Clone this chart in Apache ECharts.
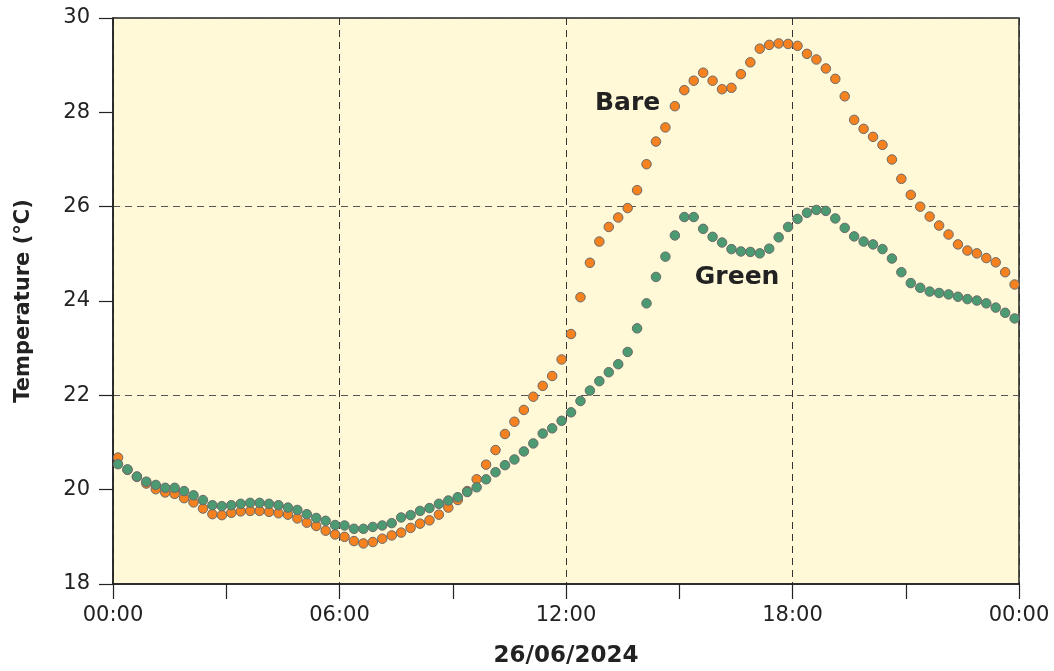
<!DOCTYPE html>
<html>
<head>
<meta charset="utf-8">
<script src="https://cdn.jsdelivr.net/npm/echarts@6/dist/echarts.min.js"></script>
<style>html,body{margin:0;padding:0;background:#fff}#c{width:1054px;height:671px}</style>
</head>
<body>
<div id="c"></div>
<script>
const times = [
"00:08","00:23","00:38","00:53","01:08","01:23","01:38","01:53","02:08","02:23","02:38","02:53",
"03:08","03:23","03:38","03:53","04:08","04:23","04:38","04:53","05:08","05:23","05:38","05:53",
"06:08","06:23","06:38","06:53","07:08","07:23","07:38","07:53","08:08","08:23","08:38","08:53",
"09:08","09:23","09:38","09:53","10:08","10:23","10:38","10:53","11:08","11:23","11:38","11:53",
"12:08","12:23","12:38","12:53","13:08","13:23","13:38","13:53","14:08","14:23","14:38","14:53",
"15:08","15:23","15:38","15:53","16:08","16:23","16:38","16:53","17:08","17:23","17:38","17:53",
"18:08","18:23","18:38","18:53","19:08","19:23","19:38","19:53","20:08","20:23","20:38","20:53",
"21:08","21:23","21:38","21:53","22:08","22:23","22:38","22:53","23:08","23:23","23:38","23:53"];

const bare = [
20.68,20.42,20.27,20.13,20.01,19.94,19.91,19.82,19.73,19.60,19.48,19.46,
19.51,19.54,19.55,19.55,19.53,19.50,19.47,19.39,19.30,19.23,19.13,19.05,
19.00,18.91,18.86,18.89,18.96,19.03,19.09,19.19,19.28,19.35,19.47,19.62,
19.78,19.97,20.22,20.53,20.84,21.18,21.44,21.69,21.97,22.20,22.41,22.76,
23.30,24.08,24.81,25.26,25.57,25.77,25.97,26.35,26.90,27.38,27.68,28.13,
28.47,28.67,28.84,28.67,28.49,28.52,28.81,29.06,29.35,29.43,29.46,29.45,
29.41,29.24,29.12,28.93,28.71,28.34,27.84,27.65,27.48,27.31,27.00,26.59,
26.25,26.00,25.79,25.60,25.41,25.20,25.07,25.01,24.91,24.82,24.61,24.35];

const green = [
20.54,20.43,20.28,20.17,20.10,20.04,20.04,19.97,19.88,19.78,19.67,19.65,
19.67,19.70,19.72,19.72,19.70,19.67,19.62,19.57,19.48,19.40,19.34,19.25,
19.24,19.17,19.17,19.21,19.24,19.29,19.41,19.46,19.55,19.61,19.70,19.77,
19.84,19.95,20.05,20.22,20.37,20.52,20.64,20.81,20.98,21.19,21.30,21.46,
21.64,21.88,22.10,22.30,22.49,22.66,22.92,23.42,23.95,24.51,24.94,25.39,
25.78,25.78,25.53,25.36,25.24,25.10,25.05,25.04,25.01,25.11,25.35,25.57,
25.74,25.87,25.93,25.91,25.75,25.55,25.37,25.26,25.20,25.10,24.90,24.61,
24.38,24.28,24.20,24.17,24.14,24.09,24.04,24.01,23.95,23.86,23.75,23.63];

const yTicks = [18, 30, 2];
const xTickLabels = ["00:00","06:00","12:00","18:00","00:00"];
const seriesNames = ["Bare","Green"];
const labelPos = { Bare: ["13:38", 28.18], Green: ["16:32", 24.5] };

function toH(t){ const p = t.split(":"); return (+p[0]) + (+p[1])/60; }

const FONT = "DejaVu Sans";
const chart = echarts.init(document.getElementById('c'), null, {renderer:'canvas'});

function mk(name, vals, color){
  return {
    name: name, type: 'scatter',
    data: vals.map((v,i)=>[toH(times[i]), v]),
    symbol: 'circle', symbolSize: 9.5,
    itemStyle: { color: color, borderColor: '#6a6a6a', borderWidth: 1, opacity: 1 },
    emphasis: { disabled: true },
    markPoint: {
      symbol: 'circle', symbolSize: 1,
      itemStyle: { color: 'rgba(0,0,0,0)', borderWidth: 0 },
      label: { show: true, position: 'inside', formatter: name, fontFamily: FONT,
               fontSize: 25, fontWeight: 'bold', color: '#222' },
      data: [{ coord: [toH(labelPos[name][0]), labelPos[name][1]] }]
    }
  };
}

chart.setOption({
  animation: false,
  backgroundColor: '#ffffff',
  grid: { left: 113, right: 35, top: 18, bottom: 87, show: true,
          containLabel: false, outerBoundsMode: 'none',
          backgroundColor: '#FFF9D7', borderColor: '#222', borderWidth: 1.5 },
  xAxis: {
    type: 'value', min: 0, max: 24, interval: 6,
    name: '26/06/2024', nameLocation: 'middle', nameGap: 61,
    nameTextStyle: { fontFamily: FONT, fontSize: 23, fontWeight: 'bold', color: '#222' },
    axisLine: { show: true, lineStyle: { color: '#222', width: 1.5 } },
    axisTick: { show: true, inside: false, length: 15, lineStyle: { color: '#222', width: 1.2 } },
    minorTick: { show: true, splitNumber: 2, length: 15, lineStyle: { color: '#222', width: 1.2 } },
    axisLabel: { fontFamily: FONT, fontSize: 21, color: '#222', margin: 21,
                 formatter: v => xTickLabels[Math.round(v/6)] },
    splitLine: { show: true, lineStyle: { color: '#333', type: [7,5], width: 1 } }
  },
  yAxis: [{
    type: 'value', min: yTicks[0], max: yTicks[1], interval: yTicks[2],
    name: 'Temperature (°C)', nameLocation: 'middle', nameGap: 79,
    nameTextStyle: { fontFamily: FONT, fontSize: 21, fontWeight: 'bold', color: '#222' },
    axisLine: { show: true, lineStyle: { color: '#222', width: 1.5 } },
    axisTick: { show: true, inside: false, length: 14, lineStyle: { color: '#222', width: 1.2 } },
    axisLabel: { fontFamily: FONT, fontSize: 21, color: '#222', margin: 23 },
    splitLine: { show: false }
  },{
    type: 'value', min: yTicks[0], max: yTicks[1], interval: 4, position: 'left',
    axisLine: { show: false }, axisTick: { show: false }, axisLabel: { show: false },
    splitLine: { show: true, lineStyle: { color: '#555', type: [7,5], width: 1 } }
  }],
  series: [ mk(seriesNames[0], bare, '#F5821F'), mk(seriesNames[1], green, '#4C9A72') ]
});
</script>
</body>
</html>
